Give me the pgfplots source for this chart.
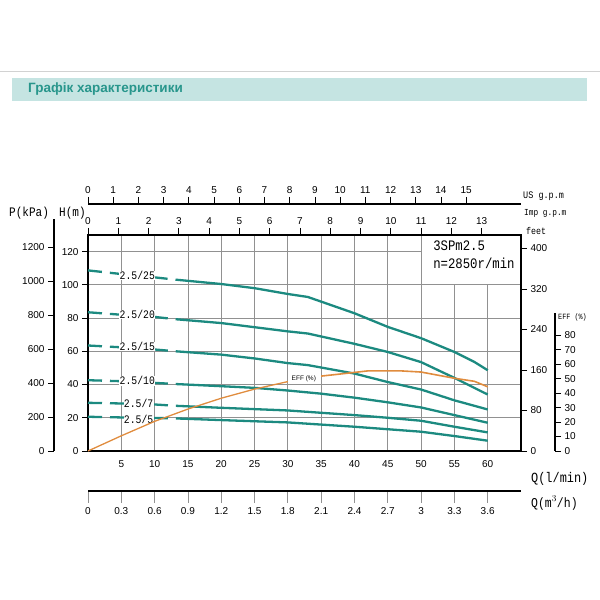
\documentclass[border=0pt]{standalone}
\usepackage{fontspec}
\setmainfont{Liberation Sans}
\newfontfamily\mono{Liberation Mono}[FakeStretch=0.85]
\usepackage{pgfplots}
\pgfplotsset{compat=1.18}
\definecolor{curve}{RGB}{28,138,128}
\definecolor{effc}{RGB}{224,140,62}
\definecolor{gridc}{RGB}{145,145,145}
\definecolor{barc}{RGB}{197,228,226}
\definecolor{headc}{RGB}{40,150,140}

\pgfplotsset{
  every axis/.append style={scale only axis,
    /pgf/number format/assume math mode=true,
    /pgf/number format/1000 sep={}},
  secax/.style={axis line style={-, line width=1.1pt},
    tick style={black, line width=0.8pt}, tick align=outside,
    ticklabel style={font=\fontsize{10}{10}\selectfont}},
}
\tikzset{
  hm/.style={curve, line width=2.3pt},
  hmd/.style={curve, line width=2.3pt, dash pattern=on 14pt off 8pt},
  lab/.style={fill=white, inner sep=0.4pt, font=\mono\fontsize{11.5}{12}\selectfont},
}

\begin{document}
\begin{tikzpicture}
\useasboundingbox (0,0) rectangle (600pt,600pt);

% header
\draw[gray!35, line width=0.8pt] (0,528.3pt) -- (600pt,528.3pt);
\fill[barc] (12pt,499.3pt) rectangle (587pt,521.7pt);
\node[anchor=west, inner sep=0, text=headc, font=\bfseries\fontsize{13.5}{14}\selectfont] at (28pt,511pt) {Графік характеристики};

% main H-Q chart
\begin{axis}[
  at={(88pt,149pt)}, anchor=south west, width=433pt, height=216pt,
  xmin=0, xmax=65, ymin=0, ymax=130,
  xtick={5,10,...,60}, ytick={0,20,...,120},
  ytick pos=left,
  grid=major, major grid style={gridc, line width=0.8pt},
  axis line style={line width=1.4pt},
  xtick style={draw=none},
  ytick style={black, line width=0.8pt},
  tick align=outside, major tick length=6pt,
  ticklabel style={font=\fontsize{10}{10}\selectfont},
  clip=false,
]
\fill[white] (axis cs:50.12,100.25) rectangle (axis cs:64.85,129.85);
\node[anchor=north west, align=left, inner sep=0, font=\mono\fontsize{14.5}{18}\selectfont]
  at (axis cs:51.8,126.8) {3SPm2.5\\n=2850r/min};

% 2.5/25
\addplot[hmd] coordinates {(0,108.7) (5,106.5) (10,104.5) (13.2,103.1)};
\addplot[hm] coordinates {(13.2,103.1) (20,100.5) (25,98) (30,94.5) (33,92.7) (40,82.9) (45,74.7) (50,67.9) (55,59.6) (58,53.6) (60,48.6)};
% 2.5/20
\addplot[hmd] coordinates {(0,83.5) (5,82) (10,80.7) (13.2,79.3)};
\addplot[hm] coordinates {(13.2,79.3) (20,77) (25,74.5) (30,72) (33,70.7) (40,64.5) (45,59.6) (50,53.5) (55,44) (60,34)};
% 2.5/15
\addplot[hmd] coordinates {(0,63.5) (5,62.4) (10,61.1) (13.2,60)};
\addplot[hm] coordinates {(13.2,60) (20,58) (25,55.7) (30,52.9) (33,51.7) (40,46.6) (45,41.5) (50,37) (55,30.5) (60,25)};
% 2.5/10
\addplot[hmd] coordinates {(0,42.6) (5,42) (10,41) (13.2,40.3)};
\addplot[hm] coordinates {(13.2,40.3) (20,39) (25,38) (30,36.4) (35,34.5) (40,32.1) (45,29.3) (50,26.2) (55,21.6) (60,17)};
% 2.5/7
\addplot[hmd] coordinates {(0,29) (5,28.6) (10,28) (13.2,27.2)};
\addplot[hm] coordinates {(13.2,27.2) (20,26) (30,24.4) (40,21.6) (45,20) (50,18.2) (55,14.6) (60,11.2)};
% 2.5/5
\addplot[hmd] coordinates {(0,20.6) (5,20.2) (10,19.9) (13.2,19.6)};
\addplot[hm] coordinates {(13.2,19.6) (20,18.6) (30,17.2) (40,14.6) (50,11.6) (55,9) (60,6.2)};

\node[lab] at (axis cs:7.4,105.8) {2.5/25};
\node[lab] at (axis cs:7.4,82) {2.5/20};
\node[lab] at (axis cs:7.4,62.8) {2.5/15};
\node[lab] at (axis cs:7.4,42.2) {2.5/10};
\node[lab] at (axis cs:7.6,28.5) {2.5/7};
\node[lab] at (axis cs:7.6,19.3) {2.5/5};
\end{axis}

% efficiency curve (EFF %)
\begin{axis}[
  at={(88pt,149pt)}, anchor=south west, width=433pt, height=216pt,
  xmin=0, xmax=65, ymin=0, ymax=149.38, hide axis, clip=false,
]
\addplot[effc, line width=1.3pt] coordinates {(0,0) (5,10.5) (10,20.5) (15,29) (20,36.5) (25,42.8) (30,48)};
\addplot[effc, line width=1.6pt] coordinates {(35,51.8) (38,53.3) (42,55.4) (47,55.4) (50,54.6) (55,50.3) (58,48.2) (60,44.4)};
\node[font=\fontsize{6.5}{7}\selectfont, inner sep=0] at (axis cs:32.4,49.8) {EFF (\%)};
\end{axis}

% Imp g.p.m (top of chart)
\begin{axis}[
  at={(88pt,149pt)}, anchor=south west, width=433pt, height=216pt,
  xmin=0, xmax=14.298, ymin=0, ymax=1,
  axis y line=none, axis x line*=top, secax, xtick={0,1,...,13}, major tick length=7pt,
]
\end{axis}

% feet (right of chart)
\begin{axis}[
  at={(88pt,149pt)}, anchor=south west, width=433pt, height=216pt,
  xmin=0, xmax=1, ymin=0, ymax=426.5,
  axis x line=none, axis y line*=right, secax, ytick={0,80,...,400}, major tick length=6pt,
]
\end{axis}

% US g.p.m
\begin{axis}[
  at={(88pt,396pt)}, anchor=north west, width=433pt, height=5pt,
  xmin=0, xmax=17.173, ymin=0, ymax=1,
  axis y line=none, axis x line*=top, secax, xtick={0,1,...,15}, major tick length=7pt,
]
\end{axis}

% m3/h
\begin{axis}[
  at={(88pt,109pt)}, anchor=south west, width=433pt, height=5pt,
  xmin=0, xmax=3.9, ymin=0, ymax=1,
  axis y line=none, axis x line*=bottom, secax,
  tick style={gridc, line width=0.8pt}, major tick length=12pt,
  xtick={0,0.3,0.6,0.9,1.2,1.5,1.8,2.1,2.4,2.7,3,3.3,3.6},
  xticklabels={0,0.3,0.6,0.9,1.2,1.5,1.8,2.1,2.4,2.7,3,3.3,3.6},
  xticklabel style={yshift=-1pt},
]
\end{axis}

% P (kPa)
\begin{axis}[
  at={(54pt,149pt)}, anchor=south west, width=1pt, height=232pt,
  xmin=0, xmax=1, ymin=0, ymax=1366.7,
  axis x line=none, axis y line*=left, secax, ytick={0,200,...,1200}, major tick length=6pt,
]
\end{axis}

% EFF (%)
\begin{axis}[
  at={(554pt,149pt)}, anchor=south west, width=1pt, height=138pt,
  xmin=0, xmax=1, ymin=0, ymax=95.4,
  axis x line=none, axis y line*=right, secax, ytick={0,10,...,80}, major tick length=6pt,
]
\end{axis}

% axis titles
\node[anchor=west, inner sep=0, font=\mono\fontsize{13}{14}\selectfont] at (9pt,387pt) {P(kPa)};
\node[anchor=west, inner sep=0, font=\mono\fontsize{13}{14}\selectfont] at (59pt,387pt) {H(m)};
\node[anchor=west, inner sep=0, font=\mono\fontsize{10}{11}\selectfont] at (523pt,404pt) {US g.p.m};
\node[anchor=west, inner sep=0, font=\mono\fontsize{9.2}{10}\selectfont] at (524pt,387pt) {Imp g.p.m};
\node[anchor=west, inner sep=0, font=\mono\fontsize{9.8}{10}\selectfont] at (526pt,369pt) {feet};
\node[anchor=west, inner sep=0, font=\mono\fontsize{8}{9}\selectfont] at (558pt,283pt) {EFF (\%)};
\node[anchor=west, inner sep=0, font=\mono\fontsize{14}{15}\selectfont] at (531pt,121pt) {Q(l/min)};
\node[anchor=west, inner sep=0, font=\mono\fontsize{13.5}{15}\selectfont] at (531pt,97pt) {Q(m$^3$/h)};
\end{tikzpicture}
\end{document}
